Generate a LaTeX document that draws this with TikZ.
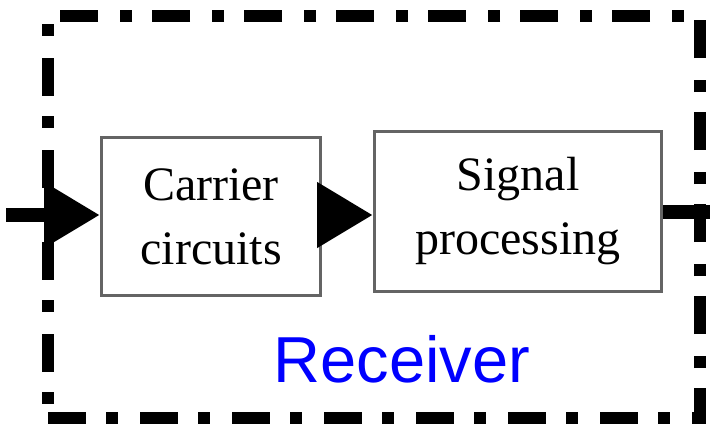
\documentclass[tikz,border=0pt]{standalone}
\usepackage{fontspec}
\setmainfont{Liberation Serif}
\newfontfamily\recvfont{Liberation Sans}
\usetikzlibrary{arrows.meta}
\definecolor{boxgray}{RGB}{100,100,100}
\begin{document}
\begin{tikzpicture}[x=0.5pt,y=-0.5pt,
  block/.style={draw=boxgray, line width=1.5pt, fill=white, align=center,
    font=\fontsize{24}{32}\selectfont, inner sep=0pt},
  frame/.style={draw=black, line width=6pt,
    dash pattern=on 19pt off 10pt on 6pt off 11pt},
  flow/.style={line width=7pt, -{Triangle[length=28pt,width=31pt]}},
  thickline/.style={line width=7pt}
]
\useasboundingbox (0,0) rectangle (710,425);
\node[frame, minimum width=326pt, minimum height=201pt] (frame) at (374,217) {};
\node[block, minimum width=109.5pt, minimum height=79pt] (carrier) at (211,216.5) {Carrier\\circuits};
\node[block, minimum width=143.5pt, minimum height=80pt] (signal) at (518,211.5) {Signal\\processing};
\node[anchor=base, text=blue, font=\recvfont\fontsize{32.5}{39}\selectfont, inner sep=0pt] (recv) at (402,382) {Receiver};
\coordinate (in) at (6,215);
\coordinate (out) at (725,212);
\draw[flow] (in) -- (carrier.west |- in);
\draw[flow] (carrier.east |- in) -- (signal.west |- in);
\draw[thickline] (signal.east |- out) -- (out);
\end{tikzpicture}
\end{document}
